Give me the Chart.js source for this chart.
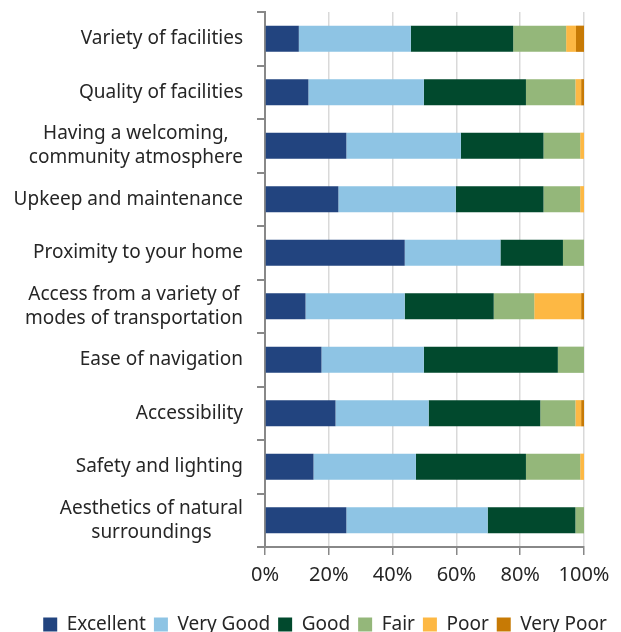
<!DOCTYPE html>
<html>
<head>
<meta charset="utf-8">
<script src="https://cdn.jsdelivr.net/npm/chart.js@4.4.1/dist/chart.umd.min.js"></script>
<style>
  html, body { margin: 0; padding: 0; background: #fff; }
</style>
</head>
<body>
<canvas id="chart" width="621" height="632"></canvas>
<script>
// --- Data ---
const categories = [
  'Variety of facilities',
  'Quality of facilities',
  ['Having a welcoming,', 'community atmosphere'],
  'Upkeep and maintenance',
  'Proximity to your home',
  ['Access from a variety of', 'modes of transportation'],
  'Ease of navigation',
  'Accessibility',
  'Safety and lighting',
  ['Aesthetics of natural', 'surroundings']
];
const excellent = [10.6, 13.6, 25.5, 23.0, 43.8, 12.7, 17.7, 22.1, 15.2, 25.5];
const veryGood  = [35.1, 36.2, 35.9, 36.8, 30.0, 31.1, 32.1, 29.2, 32.1, 44.3];
const good      = [32.1, 32.0, 25.9, 27.5, 19.6, 27.9, 42.0, 35.0, 34.5, 27.5];
const fair      = [16.6, 15.5, 11.5, 11.5,  6.6, 12.7,  8.2, 11.0, 17.0,  2.7];
const poor      = [ 3.1,  1.8,  1.2,  1.2,  0.0, 14.7,  0.0,  1.8,  1.2,  0.0];
const veryPoor  = [ 2.5,  0.9,  0.0,  0.0,  0.0,  0.9,  0.0,  0.9,  0.0,  0.0];
const xTicks = [0, 20, 40, 60, 80, 100];

const FONT = '"Noto Sans", "Open Sans", sans-serif';
const TEXT_COLOR = '#262626';

// Category labels: each block right-aligned to the axis, lines centred in the block
const centeredLabels = {
  id: 'centeredLabels',
  afterDraw(chart) {
    const ctx = chart.ctx;
    const y = chart.scales.y;
    ctx.save();
    ctx.font = '19px ' + FONT;
    ctx.fillStyle = TEXT_COLOR;
    ctx.textAlign = 'center';
    ctx.textBaseline = 'middle';
    const right = y.right - 22;
    categories.forEach((lab, i) => {
      const lines = [].concat(lab);
      const w = Math.max(...lines.map(l => ctx.measureText(l).width));
      const cx = right - w / 2;
      const cy = y.getPixelForValue(i);
      lines.forEach((l, j) => ctx.fillText(l, cx, cy + (j - (lines.length - 1) / 2) * 24));
    });
    ctx.restore();
  }
};

// nudge the legend down and a bit to the right, like the original
const legendShift = {
  id: 'legendShift',
  afterLayout(chart) {
    const lg = chart.legend;
    lg.top += 12; lg.bottom += 12;
    lg.left += 33; lg.right += 33;
  }
};

const mk = (label, data, color) => ({
  label, data, backgroundColor: color, borderWidth: 0,
  barPercentage: 0.49, categoryPercentage: 1
});

new Chart(document.getElementById('chart'), {
  type: 'bar',
  data: {
    labels: categories,
    datasets: [
      mk('Excellent', excellent, '#22447F'),
      mk('Very Good', veryGood, '#8EC4E4'),
      mk('Good', good, '#01492D'),
      mk('Fair', fair, '#94B77A'),
      mk('Poor', poor, '#FDB844'),
      mk('Very Poor', veryPoor, '#C77A05')
    ]
  },
  options: {
    indexAxis: 'y',
    responsive: false,
    animation: false,
    layout: { padding: { top: 12, right: 37, bottom: 0, left: 0 } },
    scales: {
      x: {
        stacked: true,
        min: 0, max: 100,
        afterBuildTicks: s => { s.ticks = xTicks.map(v => ({ value: v })); },
        ticks: {
          callback: v => v + '%',
          color: TEXT_COLOR,
          font: { family: FONT, size: 20 },
          padding: 8,
          maxRotation: 0
        },
        grid: { color: '#D9D9D9', lineWidth: 1.5, tickColor: '#888', tickLength: 8 },
        border: { color: '#888', width: 2 }
      },
      y: {
        stacked: true,
        afterFit: s => { s.width = 265; },
        ticks: { color: 'transparent', font: { size: 1 } },
        grid: { offset: true, drawOnChartArea: false, drawTicks: true, tickLength: 8, tickColor: '#888', lineWidth: 2 },
        border: { color: '#888', width: 2 }
      }
    },
    plugins: {
      legend: {
        position: 'bottom',
        labels: {
          boxWidth: 14, boxHeight: 14,
          padding: 8,
          color: TEXT_COLOR,
          font: { family: FONT, size: 19 }
        }
      },
      tooltip: { enabled: false }
    }
  },
  plugins: [centeredLabels, legendShift]
});
</script>
</body>
</html>
